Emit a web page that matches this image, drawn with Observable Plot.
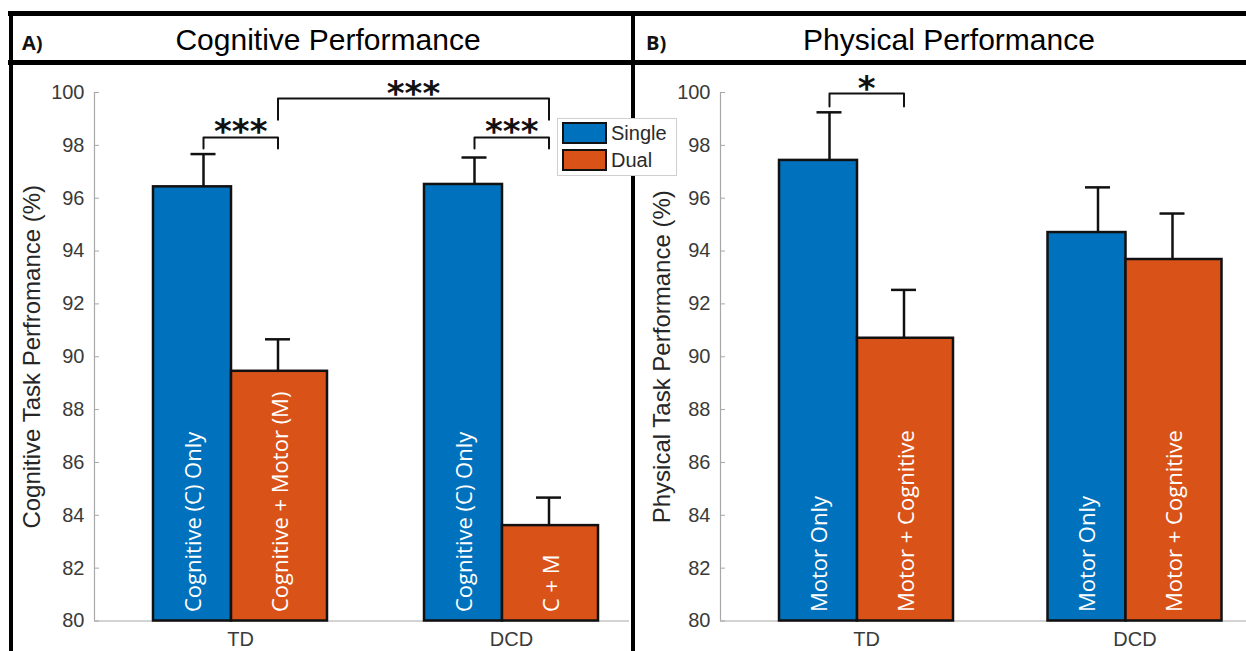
<!DOCTYPE html>
<html>
<head>
<meta charset="utf-8">
<script src="https://cdn.jsdelivr.net/npm/d3@7"></script>
<script src="https://cdn.jsdelivr.net/npm/@observablehq/plot@0.6"></script>
<style>
  html, body { margin: 0; padding: 0; background: #fff; }
  #wrap { position: relative; width: 1246px; height: 651px; overflow: hidden; font-family: "Liberation Sans", Arial, sans-serif; }
  .hl { position: absolute; background: #000; }
  .panel { position: absolute; top: 64px; }
  .tag { position: absolute; top: 33px; font-family: "Open Sans", sans-serif; font-weight: 700; font-size: 20px; line-height: 20px; color: #111; }
  .title { position: absolute; top: 25px; font-size: 30px; line-height: 30px; color: #000; transform: translateX(-50%); white-space: nowrap; }
  #legend { position: absolute; left: 557px; top: 118px; width: 118px; height: 56px; background: #fff; border: 1px solid #cfcfcf; z-index: 5; }
  .lrow { position: absolute; left: 4px; height: 22px; display: flex; align-items: center; }
  .sw { width: 41px; height: 18px; border: 2px solid #111; }
  .lt { margin-left: 4px; font-size: 20px; color: #2a2a2a; }
</style>
</head>
<body>
<div id="wrap">
  <div class="hl" style="left:8px;top:11px;width:1238px;height:5px"></div>
  <div class="hl" style="left:8px;top:60px;width:1238px;height:5px"></div>
  <div class="hl" style="left:9px;top:11px;width:4px;height:640px"></div>
  <div class="hl" style="left:631px;top:11px;width:4px;height:640px"></div>
  <div class="tag" style="left:22px">A)</div>
  <div class="tag" style="left:646px">B)</div>
  <div class="title" id="titleA" style="left:328px"></div>
  <div class="title" id="titleB" style="left:949px"></div>
  <div class="panel" id="panelA" style="left:0px"></div>
  <div class="panel" id="panelB" style="left:632px"></div>
  <div id="legend"></div>
</div>
<script>
// ---------------- data ----------------
const groups = ["TD", "DCD"];
const series = ["Single", "Dual"];
const seriesColors = ["#0072BD", "#D95319"];
const yTicks = [80, 82, 84, 86, 88, 90, 92, 94, 96, 98, 100];

const titles = ["Cognitive Performance", "Physical Performance"];
const yLabels = ["Cognitive Task Perfromance (%)", "Physical Task Performance (%)"];

// Cognitive performance (panel A)
const cogSingle = [96.43, 96.52];
const cogSingleErr = [1.24, 1.02];
const cogDual = [89.45, 83.61];
const cogDualErr = [1.21, 1.06];
const cogSingleLabels = ["Cognitive (C) Only", "Cognitive (C) Only"];
const cogDualLabels = ["Cognitive + Motor (M)", "C + M"];

// Physical performance (panel B)
const phySingle = [97.43, 94.70];
const phySingleErr = [1.82, 1.71];
const phyDual = [90.70, 93.68];
const phyDualErr = [1.83, 1.74];
const phySingleLabels = ["Motor Only", "Motor Only"];
const phyDualLabels = ["Motor + Cognitive", "Motor + Cognitive"];

// significance brackets: [group, series] endpoints, bracket level, leg drop, label
const cogBrackets = [
  {a: [0, 0], b: [0, 1], level: 98.30, drop: 0.42, label: "***"},
  {a: [1, 0], b: [1, 1], level: 98.30, drop: 0.42, label: "***"},
  {a: [0, 1], b: [1, 1], level: 99.77, drop: 0.80, label: "***"}
];
const phyBrackets = [
  {a: [0, 0], b: [0, 1], level: 99.96, drop: 0.49, label: "*"}
];

// ---------------- layout constants (pixels) ----------------
const BAR_LEFT = -87, BAR_SPLIT = -9, BAR_RIGHT = 87;
const STEM = [-37, 37.5];
const CAP = 12.5;
const AXIS_GRAY = "#a8a8a8";

function makePanel(cfg) {
  const step = cfg.range[1] - cfg.range[0];
  const u = p => p / step;
  const rows = [];
  groups.forEach((g, i) => {
    rows.push({g, i, s: series[0], v: cfg.single[i], e: cfg.singleErr[i], lab: cfg.singleLabels[i],
               a: u(BAR_LEFT), b: u(BAR_SPLIT), stem: u(STEM[0])});
    rows.push({g, i, s: series[1], v: cfg.dual[i], e: cfg.dualErr[i], lab: cfg.dualLabels[i],
               a: u(BAR_SPLIT), b: u(BAR_RIGHT), stem: u(STEM[1])});
  });
  const ex = ([gi, si]) => gi + u(STEM[si]);
  const bpts = [];
  cfg.brackets.forEach((br, k) => {
    const xa = ex(br.a), xb = ex(br.b);
    bpts.push({id: k, x: xa, y: br.level - br.drop});
    bpts.push({id: k, x: xa, y: br.level});
    bpts.push({id: k, x: xb, y: br.level});
    bpts.push({id: k, x: xb, y: br.level - br.drop});
  });
  const blabels = cfg.brackets.map(br => ({x: (ex(br.a) + ex(br.b)) / 2, y: br.level, label: br.label}));
  const xFrameLeft = (cfg.marginLeft - cfg.range[0]) / step;

  return Plot.plot({
    width: cfg.width,
    height: 587,
    marginLeft: cfg.marginLeft,
    marginRight: cfg.marginRight,
    marginTop: 28,
    marginBottom: 30.5,
    style: {fontFamily: "Liberation Sans, Arial, sans-serif", background: "transparent", overflow: "visible"},
    x: {type: "linear", domain: [0, 1], range: cfg.range},
    y: {domain: [80, 100]},
    color: {domain: series, range: seriesColors},
    marks: [
      Plot.ruleX([xFrameLeft], {y1: 80, y2: 100, stroke: AXIS_GRAY, strokeWidth: 1.2}),
      Plot.ruleY([80], {stroke: AXIS_GRAY, strokeWidth: 1.2}),
      Plot.axisY({ticks: yTicks, tickSize: -5, tickPadding: 15, stroke: AXIS_GRAY, fill: "#3a3a3a", fontSize: 20, label: null}),
      Plot.axisX({ticks: [0, 1], tickFormat: i => groups[i], tickSize: 0, tickPadding: 11, stroke: AXIS_GRAY, fill: "#3a3a3a", fontSize: 20, label: null}),
      Plot.rectY(rows, {x1: d => d.i + d.a, x2: d => d.i + d.b, y1: 80, y2: "v", fill: "s", stroke: "#111", strokeWidth: 2.5}),
      Plot.text(rows, {x: d => d.i + (d.a + d.b) / 2, y: 80, text: "lab", rotate: -90, textAnchor: "start", lineAnchor: "middle", dy: -9, dx: 1,
                       fill: "white", fontSize: 22, fontFamily: "Open Sans, sans-serif"}),
      Plot.ruleX(rows, {x: d => d.i + d.stem, y1: "v", y2: d => d.v + d.e, stroke: "#111", strokeWidth: 2.5}),
      Plot.ruleY(rows, {y: d => d.v + d.e, x1: d => d.i + d.stem - u(CAP), x2: d => d.i + d.stem + u(CAP), stroke: "#111", strokeWidth: 2.5}),
      Plot.line(bpts, {x: "x", y: "y", z: "id", stroke: "#111", strokeWidth: 2}),
      Plot.text(blabels, {x: "x", y: "y", text: "label", lineAnchor: "bottom", dy: 6, fontSize: 34, fontWeight: "bold",
                          fontFamily: "DejaVu Sans, sans-serif", fill: "#111"}),
      Plot.text([cfg.yLabel], {frameAnchor: "left", rotate: -90, dx: cfg.labelDx, text: d => d, fontSize: 24, fill: "#262626", lineAnchor: "middle", textAnchor: "middle"})
    ]
  });
}

document.getElementById("titleA").textContent = titles[0];
document.getElementById("titleB").textContent = titles[1];

document.getElementById("panelA").appendChild(makePanel({
  width: 632, marginLeft: 94, marginRight: 3, range: [240, 511], labelDx: -62,
  single: cogSingle, singleErr: cogSingleErr, dual: cogDual, dualErr: cogDualErr,
  singleLabels: cogSingleLabels, dualLabels: cogDualLabels, brackets: cogBrackets, yLabel: yLabels[0]
}));
document.getElementById("panelB").appendChild(makePanel({
  width: 614, marginLeft: 88, marginRight: 0, range: [234, 502.5], labelDx: -58,
  single: phySingle, singleErr: phySingleErr, dual: phyDual, dualErr: phyDualErr,
  singleLabels: phySingleLabels, dualLabels: phyDualLabels, brackets: phyBrackets, yLabel: yLabels[1]
}));

// legend
const legend = document.getElementById("legend");
series.forEach((s, k) => {
  const row = document.createElement("div");
  row.className = "lrow";
  row.style.top = (3 + k * 27) + "px";
  const sw = document.createElement("div");
  sw.className = "sw";
  sw.style.background = seriesColors[k];
  const t = document.createElement("span");
  t.className = "lt";
  t.textContent = s;
  row.appendChild(sw); row.appendChild(t);
  legend.appendChild(row);
});
</script>
</body>
</html>
